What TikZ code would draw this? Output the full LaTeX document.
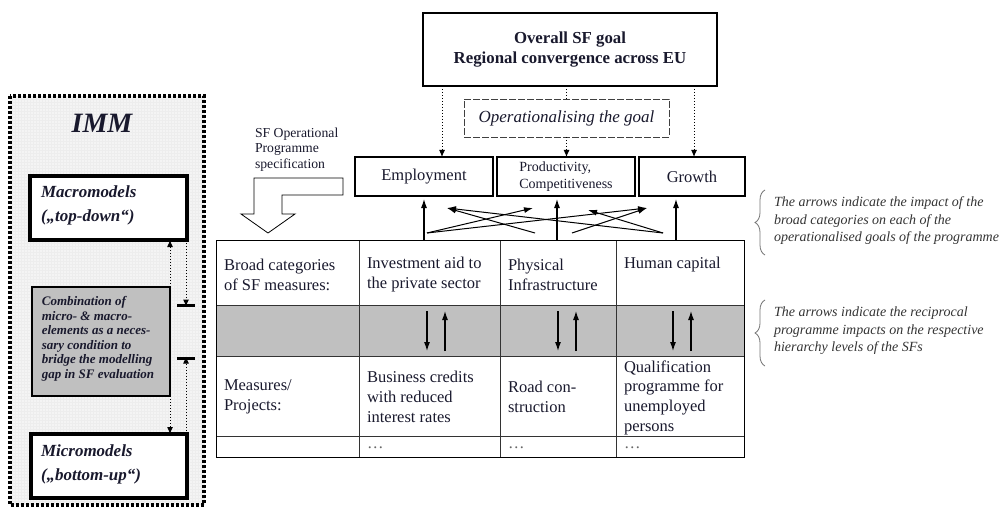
\documentclass[tikz,border=0pt]{standalone}
\usepackage{fontspec}
\setmainfont{Liberation Serif}
\usetikzlibrary{arrows.meta,decorations.pathreplacing}
\definecolor{ink}{RGB}{25,25,45}
\definecolor{cellgray}{RGB}{192,192,192}
\definecolor{immbg}{RGB}{244,244,244}
\begin{document}
\begin{tikzpicture}[x=1pt,y=-1pt,
  every node/.style={inner sep=0pt, outer sep=0pt, text=ink},
  fbig/.style={font=\fontsize{16.5}{20}\selectfont},
  fsmall/.style={font=\fontsize{13.7}{15.5}\selectfont},
  fprod/.style={font=\fontsize{14}{17}\selectfont},
  fnote/.style={font=\fontsize{14}{17.5}\selectfont\itshape, text=black!80},
  fmodel/.style={font=\fontsize{17}{24}\selectfont\bfseries\itshape},
  fcomb/.style={font=\fontsize{13}{14.5}\selectfont\bfseries\itshape},
  goalbox/.style={draw, line width=1.6pt, fill=white},
  modelbox/.style={draw, line width=3.3pt, fill=white},
  combbox/.style={draw, line width=2.2pt, fill=cellgray},
  operbox/.style={draw=black!75, line width=0.9pt, dash pattern=on 7pt off 2pt, fill=white},
  dotarr/.style={dotted, line width=1pt, -{Latex[length=7pt,width=6pt]}},
  dotline/.style={dotted, line width=1pt},
  solarr/.style={line width=1.1pt, -{Latex[length=9pt,width=6pt]}},
  crossarr/.style={line width=1pt, -{Latex[length=9pt,width=6pt]}},
  tblline/.style={line width=1pt, black!80},
  bracestyle/.style={draw=black!55, line width=0.8pt, decorate, decoration={brace, amplitude=10pt}},
  barstyle/.style={line width=3pt}
]
\useasboundingbox (0,0) rectangle (1007,508);

% ---------------- IMM panel ----------------
\fill[immbg] (10,96) rectangle (204,505);
\draw[gray!14, line width=0.25pt, step=3pt] (10,96) grid (204,505);
\draw[line width=3.2pt, dash pattern=on 3pt off 2pt] (10,96) rectangle (204,505);

\node[font=\fontsize{28}{30}\selectfont\bfseries\itshape] (imm) at (102,123) {IMM};

\node[modelbox, minimum width=157pt, minimum height=64pt] (macro) at (108.5,208) {};
\node[fmodel, anchor=west, align=left] (macrot) at (41,205) {Macromodels\\(„top-down“)};

\node[combbox, minimum width=138pt, minimum height=109pt] (comb) at (101,341.5) {};
\node[fcomb, align=left] (combt) at (98,339) {Combination of\\micro- \& macro-\\elements as a neces-\\sary condition to\\bridge the modelling\\gap in SF evaluation};

\node[modelbox, minimum width=156pt, minimum height=64pt] (micro) at (109,466) {};
\node[fmodel, anchor=west, align=left] (microt) at (41,464.5) {Micromodels\\(„bottom-up“)};

\coordinate (L1) at (170,300);
\draw[dotarr] (L1 |- comb.north) -- (L1 |- macro.south);
\draw[dotarr] (L1 |- comb.south) -- (L1 |- micro.north);

\coordinate (bar1) at (186,305);
\coordinate (bar2) at (186,358);
\draw[dotarr] (bar1 |- macro.south) -- ([yshift=-1.5pt]bar1);
\draw[barstyle] ([xshift=-9pt]bar1) -- ([xshift=9pt]bar1);
\draw[dotarr] (bar2 |- micro.north) -- ([yshift=1.5pt]bar2);
\draw[barstyle] ([xshift=-9pt]bar2) -- ([xshift=9pt]bar2);

% ---------------- goals ----------------
\node[goalbox, minimum width=294pt, minimum height=73pt, font=\fontsize{16.8}{20}\selectfont\bfseries, align=center] (overall) at (570,49.5) {Overall SF goal\\Regional convergence across EU};
\node[operbox, minimum width=205pt, minimum height=38pt, font=\fontsize{17}{20}\selectfont\itshape] (oper) at (566.5,118) {Operationalising the goal};

\node[goalbox, minimum width=138pt, minimum height=39pt, fbig] (emp) at (424,176.5) {Employment};
\node[goalbox, minimum width=138pt, minimum height=39pt, fprod, align=left] (prod) at (566,176.5) {Productivity,\\Competitiveness};
\node[goalbox, minimum width=106pt, minimum height=39pt, fbig] (gro) at (692,176.5) {Growth};

\coordinate (d1) at (442,100);
\coordinate (d3) at (694,100);
\draw[dotarr] (d1 |- overall.south) -- (d1 |- emp.north);
\draw[dotline] (oper.north |- overall.south) -- (oper.north);
\draw[dotarr] (oper.south) -- (oper.south |- prod.north);
\draw[dotarr] (d3 |- overall.south) -- (d3 |- gro.north);

% ---------------- OP specification arrow ----------------
\node[fsmall, anchor=west, align=left] (opspec) at (255,149.5) {SF Operational\\Programme\\specification};
\draw[line width=0.8pt, fill=white] (254,178) -- (343,178) -- (343,195) -- (282,195) -- (282,214) -- (295,214) -- (268,233) -- (241,214) -- (254,214) -- cycle;

% ---------------- table ----------------
\fill[cellgray] (216,305) rectangle (744,356);
\draw[tblline] (216,305) -- (744,305);
\draw[tblline] (216,356) -- (744,356);
\draw[tblline] (216,436) -- (744,436);
\draw[tblline] (359,240) -- (359,457);
\draw[tblline] (500,240) -- (500,457);
\draw[tblline] (616,240) -- (616,457);
\draw[line width=1pt] (216,240) rectangle (744,457);

\node[fbig, anchor=west, align=left] (c11) at (224,275) {Broad categories\\of SF measures:};
\node[fbig, anchor=west, align=left] (c12) at (367,275) {Investment aid to\\the private sector};
\node[fbig, anchor=west, align=left] (c13) at (508,275) {Physical\\Infrastructure};
\node[fbig, anchor=west, align=left] (c14) at (624,265) {Human capital};

\node[fbig, anchor=west, align=left] (c31) at (224,397) {Measures/\\Projects:};
\node[fbig, anchor=west, align=left] (c32) at (367,397) {Business credits\\with reduced\\interest rates};
\node[fbig, anchor=west, align=left] (c33) at (508,397) {Road con-\\struction};
\node[font=\fontsize{16.5}{19.7}\selectfont, anchor=west, align=left] (c34) at (624,397.5) {Qualification\\programme for\\unemployed\\persons};

\node[fbig, anchor=west, text=black!60] (c42) at (367,448) {…};
\node[fbig, anchor=west, text=black!60] (c43) at (508,448) {…};
\node[fbig, anchor=west, text=black!60] (c44) at (624,448) {…};

% reciprocal arrows in grey row
\foreach \dx/\ux in {427/445, 558/576, 673/691}{
  \draw[solarr] (\dx,311) -- (\dx,351);
  \draw[solarr] (\ux,351) -- (\ux,311);
}

% ---------------- impact arrows ----------------
\coordinate (a1) at (424,240);
\coordinate (a2) at (557,240);
\coordinate (a3) at (676,240);
\draw[solarr, shorten >=3pt] (a1) -- (a1 |- emp.south);
\draw[solarr, shorten >=3pt] (a2) -- (a2 |- prod.south);
\draw[solarr, shorten >=3pt] (a3) -- (a3 |- gro.south);

\coordinate (sInv) at (427,233);
\coordinate (sPhA) at (535,233);
\coordinate (sPhB) at (572,233);
\coordinate (sHum) at (663,233);
\coordinate (eEmp) at (447,208);
\coordinate (eProdL) at (533,208);
\coordinate (eProdR) at (588,210);
\coordinate (eGro) at (647,208);
\draw[crossarr] (sInv) -- (eProdL);
\draw[crossarr] (sInv) -- (eGro);
\draw[crossarr] (sPhA) -- (eEmp);
\draw[crossarr] (sPhB) -- (eGro);
\draw[crossarr] (sHum) -- (eEmp);
\draw[crossarr] (sHum) -- (eProdR);

% ---------------- braces and notes ----------------
\coordinate (br1a) at (765,255);
\coordinate (br1b) at (765,190);
\coordinate (br2a) at (765,366);
\coordinate (br2b) at (765,300);
\draw[bracestyle] (br1a) -- (br1b);
\draw[bracestyle] (br2a) -- (br2b);
\node[fnote, anchor=west, align=left] (n1) at (774,221) {The arrows indicate the impact of the\\broad categories on each of the\\operationalised goals of the programme};
\node[fnote, anchor=west, align=left] (n2) at (774,331) {The arrows indicate the reciprocal\\programme impacts on the respective\\hierarchy levels of the SFs};
\end{tikzpicture}
\end{document}
